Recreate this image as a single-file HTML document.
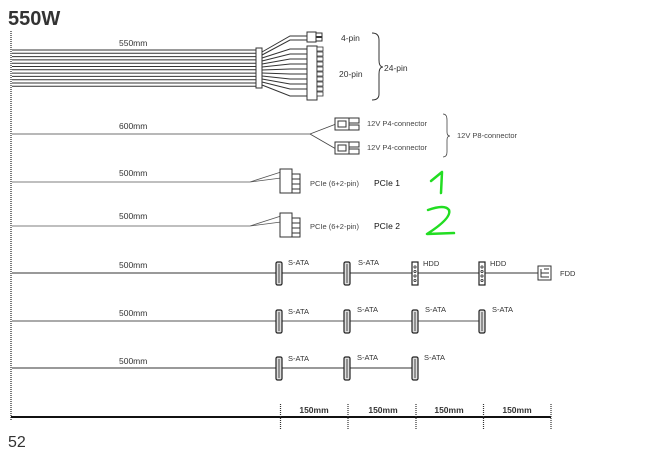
<!DOCTYPE html>
<html><head><meta charset="utf-8"><style>
html,body{margin:0;padding:0;background:#fff;}
svg{display:block;font-family:"Liberation Sans",sans-serif;}
</style></head><body>
<svg width="648" height="452" viewBox="0 0 648 452" xmlns="http://www.w3.org/2000/svg">
<defs>
<g id="sata"><rect x="-3" y="-11" width="6" height="23" rx="1.5" fill="#ddd" stroke="#222" stroke-width="1.2"/><line x1="0" y1="-9" x2="0" y2="10" stroke="#444" stroke-width="1"/></g>
<g id="hdd"><rect x="-3" y="-11" width="6" height="23" fill="#fff" stroke="#222" stroke-width="1.2"/><circle cx="0" cy="-6" r="1.1" fill="none" stroke="#222" stroke-width=".8"/><circle cx="0" cy="-1.5" r="1.1" fill="none" stroke="#222" stroke-width=".8"/><circle cx="0" cy="3" r="1.1" fill="none" stroke="#222" stroke-width=".8"/><circle cx="0" cy="7.5" r="1.1" fill="none" stroke="#222" stroke-width=".8"/></g>
<g id="p4"><rect x="0" y="-6" width="14" height="12" fill="#fff" stroke="#333"/><rect x="3" y="-3" width="8" height="6" fill="#fff" stroke="#333"/><rect x="14" y="-6" width="10" height="5" fill="#fff" stroke="#333"/><rect x="14" y="1" width="10" height="5" fill="#fff" stroke="#333"/></g>
<g id="pcie"><rect x="0" y="-12" width="12" height="24" fill="#fff" stroke="#333"/><rect x="12" y="-7" width="8" height="5" fill="#fff" stroke="#333"/><rect x="12" y="-2" width="8" height="5" fill="#fff" stroke="#333"/><rect x="12" y="3" width="8" height="5" fill="#fff" stroke="#333"/><rect x="12" y="8" width="8" height="4" fill="#fff" stroke="#333"/></g>
</defs>
<text x="8" y="25" font-size="20" font-weight="bold" fill="#333">550W</text>
<line x1="11" y1="31" x2="11" y2="420" stroke="#333" stroke-width="1.3" stroke-dasharray="1,1"/>

<!-- 24 pin -->
<text x="119" y="46" font-size="8.5" fill="#333">550mm</text>
<g stroke="#333" stroke-width="1">
<line x1="12" y1="50" x2="257" y2="50"/><line x1="12" y1="53.3" x2="257" y2="53.3"/><line x1="12" y1="56.6" x2="257" y2="56.6"/><line x1="12" y1="59.9" x2="257" y2="59.9"/><line x1="12" y1="63.2" x2="257" y2="63.2"/><line x1="12" y1="66.5" x2="257" y2="66.5"/><line x1="12" y1="69.8" x2="257" y2="69.8"/><line x1="12" y1="73.1" x2="257" y2="73.1"/><line x1="12" y1="76.4" x2="257" y2="76.4"/><line x1="12" y1="79.7" x2="257" y2="79.7"/><line x1="12" y1="83" x2="257" y2="83"/><line x1="12" y1="86.3" x2="257" y2="86.3"/>
<path d="M262 52 L290 36 L308 36 M262 55 L290 40 L308 40 M262 58 L290 49 L308 49 M262 61 L290 54 L308 54 M262 64 L290 59 L308 59 M262 67 L290 64 L308 64 M262 70 L290 69 L308 69 M262 73 L290 74 L308 74 M262 76 L290 79 L308 79 M262 79 L290 84 L308 84 M262 82 L290 89 L308 89 M262 85 L290 96 L308 96" fill="none"/>
</g>
<rect x="256" y="48" width="6" height="40" fill="#fff" stroke="#333"/>
<rect x="307" y="32" width="9" height="10" fill="#fff" stroke="#333"/>
<rect x="316" y="33" width="6" height="3.5" fill="#fff" stroke="#333"/><rect x="316" y="37.5" width="6" height="3.5" fill="#fff" stroke="#333"/>
<rect x="307" y="46" width="10" height="54" fill="#fff" stroke="#333"/>
<g fill="#fff" stroke="#333" stroke-width=".8">
<rect x="317" y="47" width="6" height="4"/><rect x="317" y="52" width="6" height="4"/><rect x="317" y="57" width="6" height="4"/><rect x="317" y="62" width="6" height="4"/><rect x="317" y="67" width="6" height="4"/><rect x="317" y="72" width="6" height="4"/><rect x="317" y="77" width="6" height="4"/><rect x="317" y="82" width="6" height="4"/><rect x="317" y="87" width="6" height="4"/><rect x="317" y="92" width="6" height="4"/>
</g>
<text x="341" y="41" font-size="8.5" fill="#333">4-pin</text>
<text x="339" y="77" font-size="8.5" fill="#333">20-pin</text>
<path d="M372 33 Q379 33 379 40 L379 60 Q379 67 383 67 Q379 67 379 74 L379 94 Q379 100 372 100" fill="none" stroke="#333"/>
<text x="384" y="71" font-size="8.5" fill="#333">24-pin</text>

<!-- 600mm -->
<text x="119" y="129" font-size="8.5" fill="#333">600mm</text>
<path d="M12 134 L310 134 L336 124 M310 134 L336 149" fill="none" stroke="#444" stroke-width=".8"/>
<use href="#p4" x="335" y="124"/><use href="#p4" x="335" y="148"/>
<text x="367" y="126" font-size="7.5" fill="#444">12V P4-connector</text>
<text x="367" y="150" font-size="7.5" fill="#444">12V P4-connector</text>
<path d="M443 114 Q447 114 447 120 L447 132 Q447 136 450 136 Q447 136 447 140 L447 152 Q447 157 443 157" fill="none" stroke="#444" stroke-width=".8"/>
<text x="457" y="138" font-size="7.5" fill="#444">12V P8-connector</text>

<!-- PCIe -->
<text x="119" y="176" font-size="8.5" fill="#333">500mm</text>
<path d="M12 182 L250 182 L281 172 M250 182 L281 178" fill="none" stroke="#555" stroke-width=".8"/>
<use href="#pcie" x="280" y="181"/>
<text x="310" y="186" font-size="7.5" fill="#444">PCIe (6+2-pin)</text>
<text x="374" y="186" font-size="8.5" fill="#111">PCIe 1</text>
<path d="M431 181 L442 172 L441 193" fill="none" stroke="#22dd22" stroke-width="2.5" stroke-linecap="round" stroke-linejoin="round"/>

<text x="119" y="219" font-size="8.5" fill="#333">500mm</text>
<path d="M12 226 L250 226 L281 216 M250 226 L281 222" fill="none" stroke="#555" stroke-width=".8"/>
<use href="#pcie" x="280" y="225"/>
<text x="310" y="229" font-size="7.5" fill="#444">PCIe (6+2-pin)</text>
<text x="374" y="229" font-size="8.5" fill="#111">PCIe 2</text>
<path d="M428 210 Q445 204 449 210 Q452 218 427 234 L454 233" fill="none" stroke="#22dd22" stroke-width="2.5" stroke-linecap="round" stroke-linejoin="round"/>

<!-- Row 1 -->
<text x="119" y="268" font-size="8.5" fill="#333">500mm</text>
<line x1="12" y1="273" x2="538" y2="273" stroke="#333" stroke-width="1"/>
<use href="#sata" x="279" y="273"/><use href="#sata" x="347" y="273"/><use href="#hdd" x="415" y="273"/><use href="#hdd" x="482" y="273"/>
<rect x="538" y="266" width="13" height="14" fill="#fff" stroke="#333"/><path d="M541 269 L541 277 L549 277 M541 273 L549 273 M544 269 L549 269" fill="none" stroke="#333"/>
<text x="288" y="265" font-size="7.5" fill="#333">S-ATA</text>
<text x="358" y="265" font-size="7.5" fill="#333">S-ATA</text>
<text x="423" y="266" font-size="7.5" fill="#333">HDD</text>
<text x="490" y="266" font-size="7.5" fill="#333">HDD</text>
<text x="560" y="276" font-size="7.5" fill="#333">FDD</text>

<!-- Row 2 -->
<text x="119" y="316" font-size="8.5" fill="#333">500mm</text>
<line x1="12" y1="321" x2="484" y2="321" stroke="#555" stroke-width="1"/>
<use href="#sata" x="279" y="321"/><use href="#sata" x="347" y="321"/><use href="#sata" x="415" y="321"/><use href="#sata" x="482" y="321"/>
<text x="288" y="314" font-size="7.5" fill="#333">S-ATA</text>
<text x="357" y="312" font-size="7.5" fill="#333">S-ATA</text>
<text x="425" y="312" font-size="7.5" fill="#333">S-ATA</text>
<text x="492" y="312" font-size="7.5" fill="#333">S-ATA</text>

<!-- Row 3 -->
<text x="119" y="364" font-size="8.5" fill="#333">500mm</text>
<line x1="12" y1="368" x2="415" y2="368" stroke="#333" stroke-width="1"/>
<use href="#sata" x="279" y="368"/><use href="#sata" x="347" y="368"/><use href="#sata" x="415" y="368"/>
<text x="288" y="361" font-size="7.5" fill="#333">S-ATA</text>
<text x="357" y="360" font-size="7.5" fill="#333">S-ATA</text>
<text x="424" y="360" font-size="7.5" fill="#333">S-ATA</text>

<!-- ruler -->
<line x1="11" y1="417" x2="551" y2="417" stroke="#111" stroke-width="2"/>
<g stroke="#333" stroke-width="1.2" stroke-dasharray="1,1">
<line x1="280.5" y1="404" x2="280.5" y2="430"/><line x1="348" y1="404" x2="348" y2="430"/><line x1="416" y1="404" x2="416" y2="430"/><line x1="483.5" y1="404" x2="483.5" y2="430"/><line x1="551" y1="404" x2="551" y2="430"/>
</g>
<g font-size="8.5" font-weight="bold" fill="#333" text-anchor="middle">
<text x="314" y="413">150mm</text><text x="383" y="413">150mm</text><text x="449" y="413">150mm</text><text x="517" y="413">150mm</text>
</g>
<text x="8" y="447" font-size="16" fill="#333">52</text>
</svg>
</body></html>
